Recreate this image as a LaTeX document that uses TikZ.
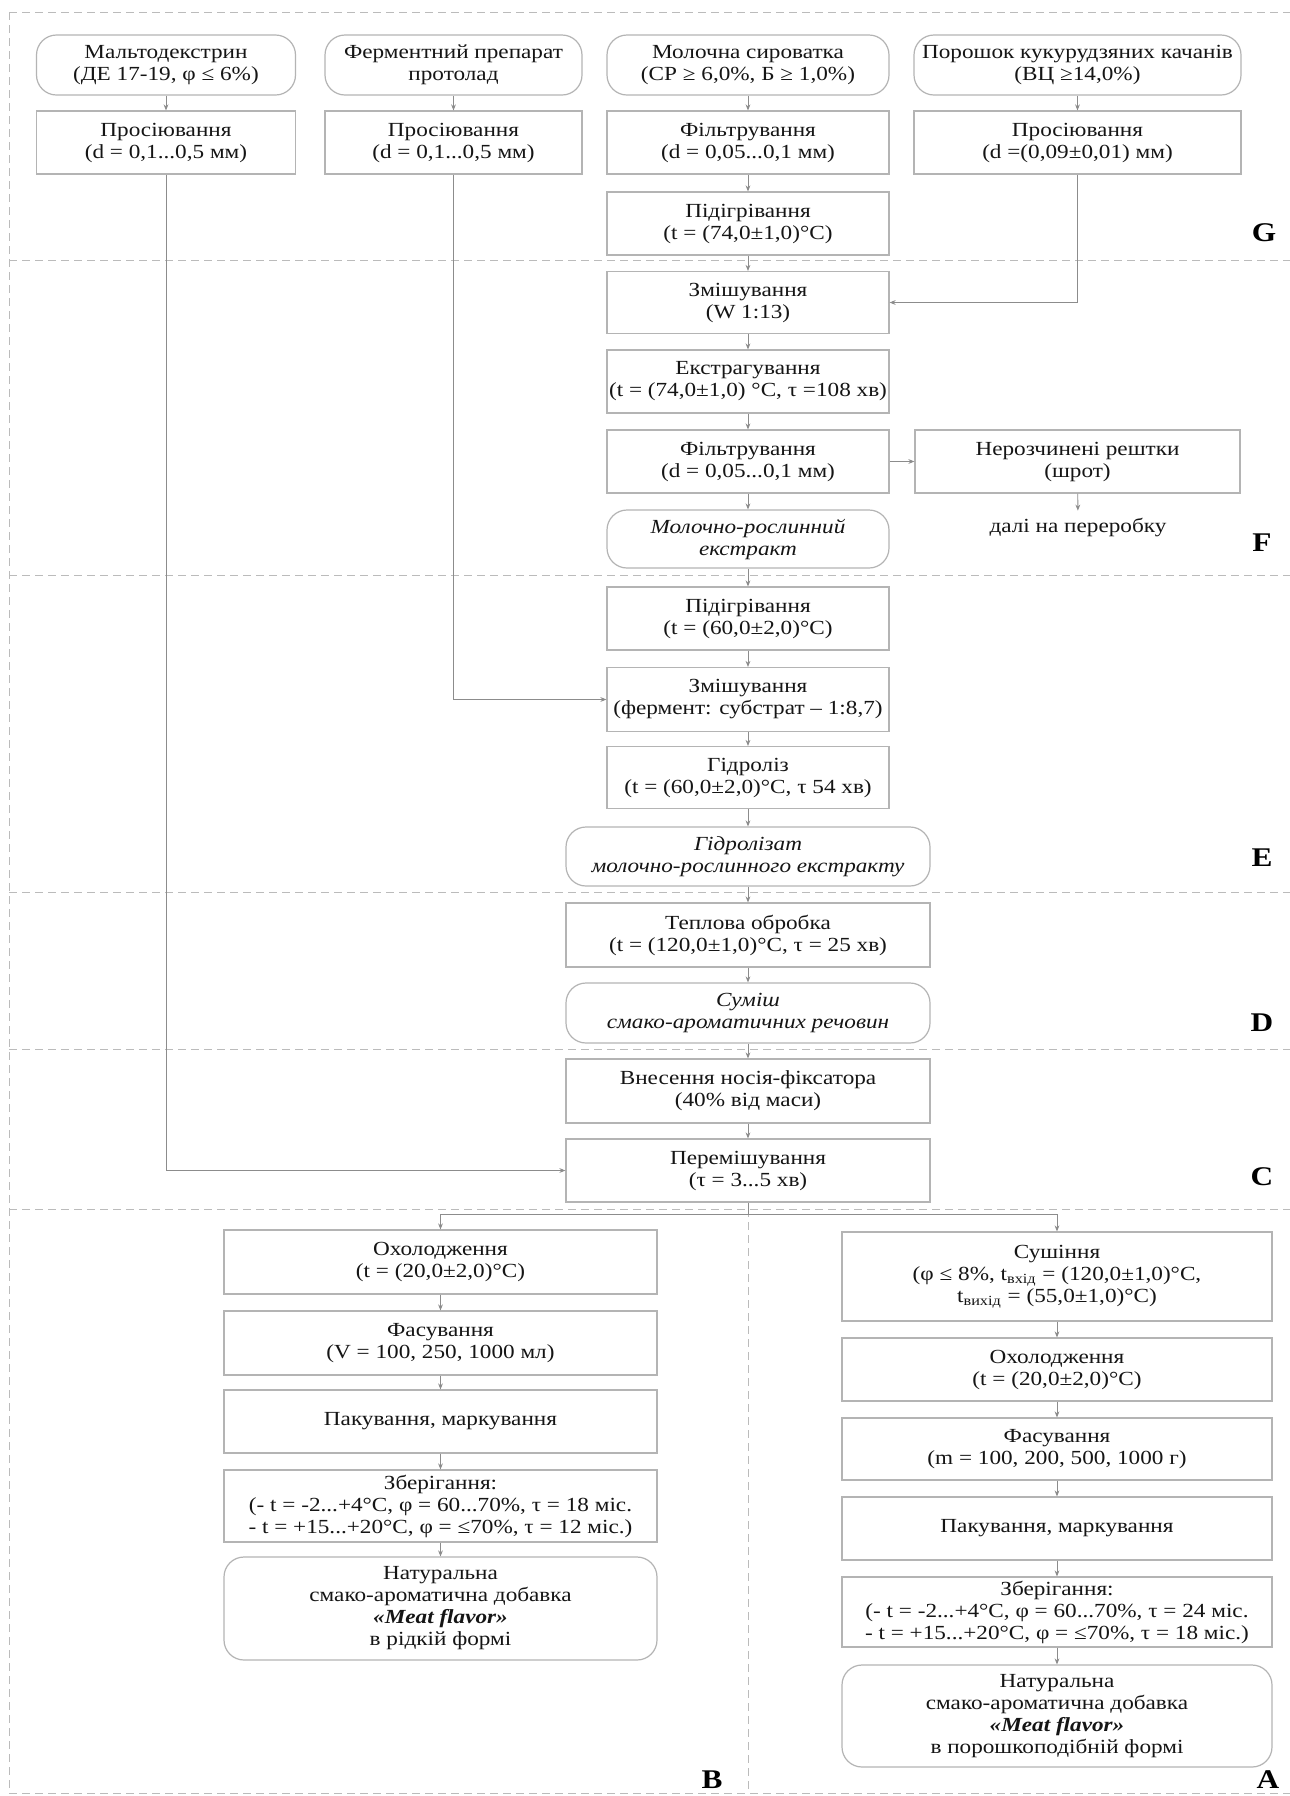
\documentclass[tikz,border=0pt]{standalone}
\usepackage{fontspec}
\setmainfont{Liberation Serif}[FakeStretch=1.16]
\usetikzlibrary{arrows.meta}
\definecolor{boxc}{HTML}{B4B4B4}
\definecolor{linec}{HTML}{8C8C8C}
\definecolor{dashc}{HTML}{BBBBBB}
\definecolor{txt}{HTML}{151515}
\begin{document}
\begin{tikzpicture}[x=0.5pt,y=-0.5pt,
  base/.style={draw=boxc, line width=0.6pt, inner sep=1pt, align=center, text=txt, font=\fontsize{10pt}{11pt}\selectfont},
  rbox/.style={base, rectangle},
  rnd/.style={base, rounded corners=10pt},
  conn/.style={draw=linec, line width=0.45pt, -{Stealth[length=3pt,width=2.4pt]}},
  plainline/.style={draw=linec, line width=0.45pt},
  sep/.style={draw=dashc, line width=0.5pt, dash pattern=on 4pt off 2.5pt},
  lab/.style={font=\fontsize{13.5pt}{14pt}\selectfont\bfseries, text=black},
  plain/.style={align=center, text=txt, font=\fontsize{10pt}{11pt}\selectfont}
]
\fill[white] (0,0) rectangle (1290,1796);
\useasboundingbox (0,0) rectangle (1290,1796);

% separators
\draw[sep] (9,12) -- (1290,12);
\draw[sep] (9,12) -- (9,1793);
\draw[sep] (9,260) -- (1290,260);
\draw[sep] (9,575) -- (1290,575);
\draw[sep] (9,892) -- (1290,892);
\draw[sep] (9,1049) -- (1290,1049);
\draw[sep] (9,1209) -- (1290,1209);
\draw[sep] (748,1209) -- (748,1793);
\draw[sep] (9,1793) -- (1290,1793);

% section labels
\node[lab] (lG) at (1264,233) {G};
\node[lab] (lF) at (1262,543) {F};
\node[lab] (lE) at (1262,858) {E};
\node[lab] (lD) at (1262,1023) {D};
\node[lab] (lC) at (1262,1177) {C};
\node[lab] (lB) at (712,1780) {B};
\node[lab] (lA) at (1268,1780) {A};

% top row
\node[rnd, minimum width=129.5pt, minimum height=30pt] (n1) at (166,65) {Мальтодекстрин\\(ДЕ 17-19, φ ≤ 6\%)};
\node[rnd, minimum width=128.5pt, minimum height=30pt] (n2) at (453.5,65) {Ферментний препарат\\протолад};
\node[rnd, minimum width=141pt, minimum height=30pt] (n3) at (748,65) {Молочна сироватка\\(СР ≥ 6,0\%, Б ≥ 1,0\%)};
\node[rnd, minimum width=163.5pt, minimum height=30pt] (n4) at (1077.5,65) {Порошок кукурудзяних качанів\\(ВЦ ≥14,0\%)};

\node[rbox, minimum width=129.5pt, minimum height=31.5pt] (p1) at (166,142.5) {Просіювання\\(d = 0,1...0,5 мм)};
\node[rbox, minimum width=128.5pt, minimum height=31.5pt] (p2) at (453.5,142.5) {Просіювання\\(d = 0,1...0,5 мм)};
\node[rbox, minimum width=141pt, minimum height=31.5pt] (p3) at (748,142.5) {Фільтрування\\(d = 0,05...0,1 мм)};
\node[rbox, minimum width=163.5pt, minimum height=31.5pt] (p4) at (1077.5,142.5) {Просіювання\\(d =(0,09±0,01) мм)};
\node[rbox, minimum width=141pt, minimum height=31.5pt] (h1) at (748,223.5) {Підігрівання\\(t = (74,0±1,0)°C)};

% F
\node[rbox, minimum width=141pt, minimum height=31pt] (m1) at (748,302.5) {Змішування\\(W 1:13)};
\node[rbox, minimum width=141pt, minimum height=31.5pt] (e1) at (748,381.5) {Екстрагування\\(t = (74,0±1,0) °C, τ =108 хв)};
\node[rbox, minimum width=141pt, minimum height=31.5pt] (f2) at (748,461.5) {Фільтрування\\(d = 0,05...0,1 мм)};
\node[rbox, minimum width=162.5pt, minimum height=31.5pt] (r) at (1077.5,461.5) {Нерозчинені рештки\\(шрот)};
\node[plain] (dl) at (1078,527) {далі на переробку};
\node[rnd, minimum width=141pt, minimum height=29pt, font=\fontsize{10pt}{11pt}\selectfont\itshape] (x1) at (748,539) {Молочно-рослинний\\екстракт};

% E
\node[rbox, minimum width=141pt, minimum height=31.5pt] (h2) at (748,618.5) {Підігрівання\\(t = (60,0±2,0)°C)};
\node[rbox, minimum width=141pt, minimum height=32pt] (m2) at (748,699.5) {Змішування\\(фермент: субстрат – 1:8,7)};
\node[rbox, minimum width=141pt, minimum height=31pt] (g) at (748,777.5) {Гідроліз\\(t = (60,0±2,0)°C, τ 54 хв)};
\node[rnd, minimum width=182pt, minimum height=29.5pt, font=\fontsize{10pt}{11pt}\selectfont\itshape] (gz) at (748,856.5) {Гідролізат\\молочно-рослинного екстракту};

% D
\node[rbox, minimum width=182pt, minimum height=32pt] (t) at (748,935) {Теплова обробка\\(t = (120,0±1,0)°C, τ = 25 хв)};
\node[rnd, minimum width=182pt, minimum height=30pt, font=\fontsize{10pt}{11pt}\selectfont\itshape] (s) at (748,1013) {Суміш\\смако-ароматичних речовин};

% C
\node[rbox, minimum width=182pt, minimum height=32pt] (v) at (748,1091) {Внесення носія-фіксатора\\(40\% від маси)};
\node[rbox, minimum width=182pt, minimum height=31.5pt] (pm) at (748,1170.5) {Перемішування\\(τ = 3...5 хв)};

% B
\node[rbox, minimum width=216.5pt, minimum height=32pt] (bo) at (440.5,1262) {Охолодження\\(t = (20,0±2,0)°C)};
\node[rbox, minimum width=216.5pt, minimum height=32pt] (bf) at (440.5,1343) {Фасування\\(V = 100, 250, 1000 мл)};
\node[rbox, minimum width=216.5pt, minimum height=31.5pt] (bp) at (440.5,1421.5) {Пакування, маркування};
\node[rbox, minimum width=216.5pt, minimum height=36pt] (bz) at (440.5,1506) {Зберігання:\\(- t = -2...+4°C, φ = 60...70\%, τ = 18 міс.\\- t = +15...+20°C, φ = ≤70\%, τ = 12 міс.)};
\node[rnd, minimum width=216.5pt, minimum height=51.5pt] (bn) at (440.5,1608.5) {Натуральна\\смако-ароматична добавка\\\textbf{\textit{«Meat flavor»}}\\в рідкій формі};

% A
\node[rbox, minimum width=215pt, minimum height=44.5pt] (as) at (1057,1276.5) {Сушіння\\(φ ≤ 8\%, t\textsubscript{вхід} = (120,0±1,0)°C,\\t\textsubscript{вихід} = (55,0±1,0)°C)};
\node[rbox, minimum width=215pt, minimum height=31.5pt] (ao) at (1057,1369.5) {Охолодження\\(t = (20,0±2,0)°C)};
\node[rbox, minimum width=215pt, minimum height=31pt] (af) at (1057,1449) {Фасування\\(m = 100, 200, 500, 1000 г)};
\node[rbox, minimum width=215pt, minimum height=31.5pt] (ap) at (1057,1528.5) {Пакування, маркування};
\node[rbox, minimum width=215pt, minimum height=35pt] (az) at (1057,1612) {Зберігання:\\(- t = -2...+4°C, φ = 60...70\%, τ = 24 міс.\\- t = +15...+20°C, φ = ≤70\%, τ = 18 міс.)};
\node[rnd, minimum width=215pt, minimum height=51pt] (an) at (1057,1716) {Натуральна\\смако-ароматична добавка\\\textbf{\textit{«Meat flavor»}}\\в порошкоподібній формі};

% connectors
\draw[conn] (n1) -- (p1);
\draw[conn] (n2) -- (p2);
\draw[conn] (n3) -- (p3);
\draw[conn] (n4) -- (p4);
\draw[conn] (p3) -- (h1);
\draw[conn] (h1) -- (m1);
\draw[conn] (m1) -- (e1);
\draw[conn] (e1) -- (f2);
\draw[conn] (f2) -- (x1);
\draw[conn] (f2) -- (r);
\draw[conn] (r) -- (dl);
\draw[conn] (x1) -- (h2);
\draw[conn] (h2) -- (m2);
\draw[conn] (m2) -- (g);
\draw[conn] (g) -- (gz);
\draw[conn] (gz) -- (t);
\draw[conn] (t) -- (s);
\draw[conn] (s) -- (v);
\draw[conn] (v) -- (pm);
\draw[conn] (p4.south) |- (m1.east);
\draw[conn] (p2.south) |- (m2.west);
\draw[conn] (p1.south) |- (pm.west);
\coordinate (sp) at (748,1214);
\draw[plainline] (pm.south) -- (sp);
\draw[conn] (sp) -| (bo.north);
\draw[conn] (sp) -| (as.north);
\draw[conn] (bo) -- (bf);
\draw[conn] (bf) -- (bp);
\draw[conn] (bp) -- (bz);
\draw[conn] (bz) -- (bn);
\draw[conn] (as) -- (ao);
\draw[conn] (ao) -- (af);
\draw[conn] (af) -- (ap);
\draw[conn] (ap) -- (az);
\draw[conn] (az) -- (an);
\end{tikzpicture}
\end{document}
